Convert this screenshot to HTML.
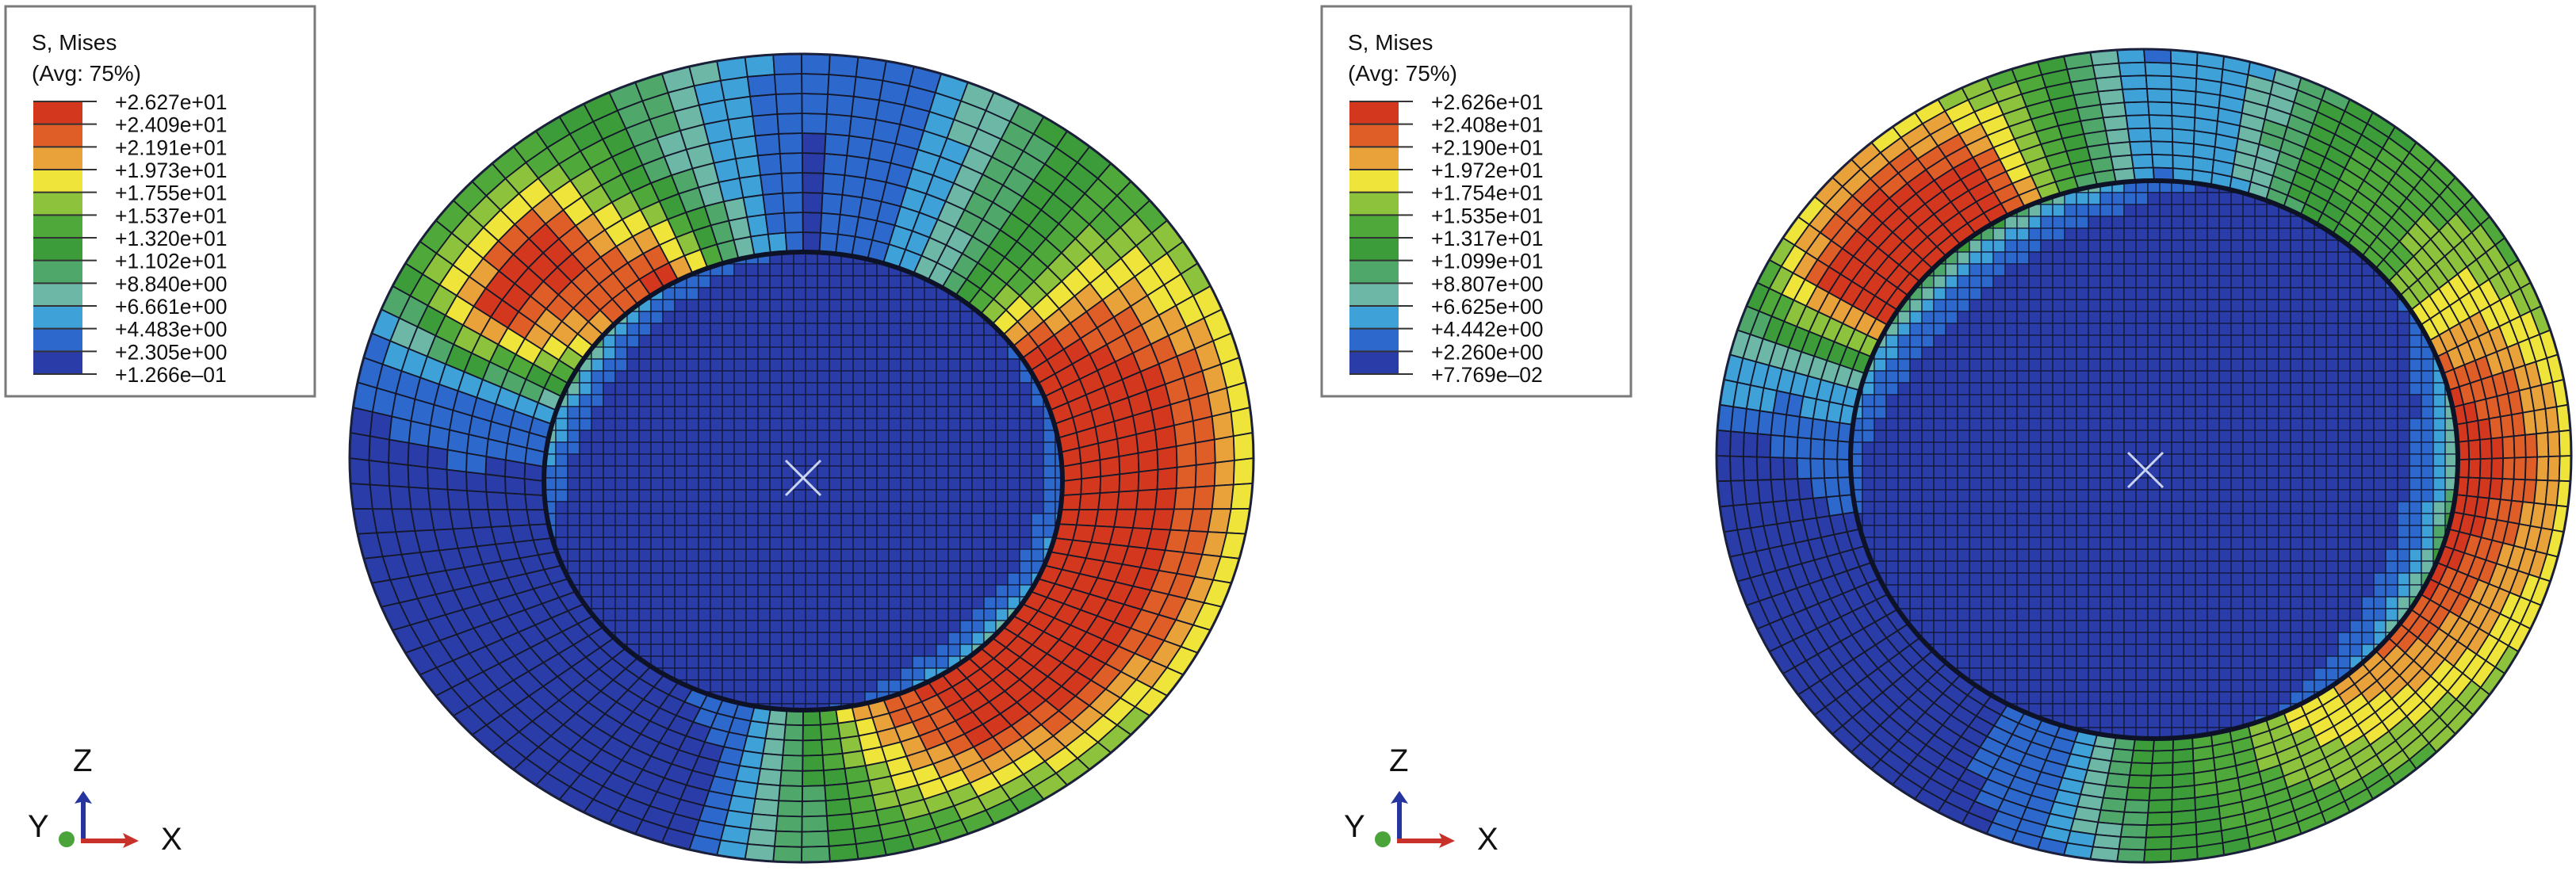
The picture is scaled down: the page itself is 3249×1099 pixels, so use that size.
<!DOCTYPE html>
<html><head><meta charset="utf-8"><style>
html,body{margin:0;padding:0;background:#fff;}
svg{display:block;font-family:"Liberation Sans",Arial,sans-serif;}
</style></head><body>
<svg id="fig" width="3249" height="1099" viewBox="0 0 3249 1099" xmlns="http://www.w3.org/2000/svg">
<g id="legendL"></g>
<g id="legendR"></g>
<g id="plateL"></g>
<g id="plateR"></g>
<g id="triadL"></g>
<g id="triadR"></g>
</svg>
<script>
// legend labels
const labelsL = ["+2.627e+01","+2.409e+01","+2.191e+01","+1.973e+01","+1.755e+01","+1.537e+01","+1.320e+01","+1.102e+01","+8.840e+00","+6.661e+00","+4.483e+00","+2.305e+00","+1.266e\u201301"];
const labelsR = ["+2.626e+01","+2.408e+01","+2.190e+01","+1.972e+01","+1.754e+01","+1.535e+01","+1.317e+01","+1.099e+01","+8.807e+00","+6.625e+00","+4.442e+00","+2.260e+00","+7.769e\u201302"];
const levelsL = [26.27,24.09,21.91,19.73,17.55,15.37,13.20,11.02,8.840,6.661,4.483,2.305,0.1266];
const levelsR = [26.26,24.08,21.90,19.72,17.54,15.35,13.17,10.99,8.807,6.625,4.442,2.260,0.07769];
const bandColors = ["#d3381f","#df5e27","#e9a23a","#eee43a","#8cc23c","#4fa83a","#3c9c3a","#4fa86a","#6db7a6","#3ea2d8","#2d69cc","#2a3ca8"];
// stress samples every 15 deg (screen angle, 0 = right, clockwise)
const angles = [0,15,30,45,60,75,90,105,120,135,150,165,180,195,210,225,240,255,270,285,300,315,330,345];
const leftInner = [26,26,26,26,25,22,12,3,2,2,2,2,2,4,16,22,26,10,2,3,8,16,26,26];
const leftMid   = [26,26,26,25,24,18,10,2,1,1,1,1,2,5,26,26,14,6,2,3,9,14,22,26];
const leftOuter = [19,19,18,16,14,13,10,2,1,1,1,1,1,3,12,13,12,8,3,4,10,14,16,19];
const leftDome  = [4,5,6,8,6,3,2,1,1,1,1,2,5,8,10,8,5,3,2,1,1,2,3,3];
const rightInner = [26,26,24,22,19,15,12,4,2,2,2,2,3,6,24,26,26,12,4,6,12,14,18,24];
const rightMid   = [24,22,21,19,17,14,12,4,2,2,2,2,2,6,26,26,24,14,5,7,13,15,18,22];
const rightOuter = [19,19,17,15,14,13,11,3,1,1,1,1,1,7,16,20,18,13,4,6,12,14,15,18];
const rightDome  = [10,12,10,6,3,2,1,1,1,1,1,2,3,6,10,13,12,8,3,2,1,2,3,6];

const NS="http://www.w3.org/2000/svg";
function mk(tag,attrs,parent){const e=document.createElementNS(NS,tag);for(const k in attrs)e.setAttribute(k,attrs[k]);parent.appendChild(e);return e;}

function colorFor(v,levels){
  for(let i=0;i<12;i++){ if(v>=levels[i+1]) return bandColors[i]; }
  return bandColors[11];
}
function angSample(arr,deg){
  deg=((deg%360)+360)%360;
  const i=Math.floor(deg/15), f=(deg-i*15)/15;
  return arr[i]*(1-f)+arr[(i+1)%24]*f;
}

function legend(g,x0,labels){
  const box=mk('rect',{x:x0+7,y:8,width:390,height:492,fill:'#fff',stroke:'#7a7a7a','stroke-width':3},g);
  
  
  const t1=mk('text',{x:x0+40,y:63,'font-size':28,fill:'#111'},g);t1.textContent='S, Mises';
  
  
  const t2=mk('text',{x:x0+40,y:102,'font-size':28,fill:'#111'},g);t2.textContent='(Avg: 75%)';
  
  
  const top=128,bh=(472-128)/12;
  for(let i=0;i<12;i++){
    const r=mk('rect',{x:x0+42,y:top+i*bh,width:62,height:bh,fill:bandColors[i]},g);
    
    
  }
  for(let i=0;i<13;i++){
    const y=top+i*bh;
    const l=mk('line',{x1:x0+42,x2:x0+122,y1:y,y2:y,stroke:'#333','stroke-width':2},g);
    
    
    const t=mk('text',{x:x0+145,y:y+10,'font-size':26.5,fill:'#111'},g);t.textContent=labels[i];
    
    
  }
}
legend(document.getElementById('legendL'),0,labelsL);
legend(document.getElementById('legendR'),1660,labelsR);

function plate(g,P,inner,mid,outer,dome,levels,cid){
  const NA=100,NR=10;
  const cp=mk('clipPath',{id:cid},g);
  mk('ellipse',{cx:P.dx,cy:P.dy,rx:P.drx,ry:P.dry},cp);
  function pt(a,r){const c=Math.cos(a),s=Math.sin(a);
    const ix=P.dx+P.drx*c, iy=P.dy+P.dry*s, ox=P.cx+P.rx*c, oy=P.cy+P.ry*s;
    return [ix+(ox-ix)*r, iy+(oy-iy)*r];}
  for(let i=0;i<NA;i++){
    const a0=i/NA*2*Math.PI,a1=(i+1)/NA*2*Math.PI,deg=(i+0.5)/NA*360;
    for(let j=0;j<NR;j++){
      const r0=j/NR,r1=(j+1)/NR,rm=(j+0.5)/NR;
      const vi=angSample(inner,deg),vm=angSample(mid,deg),vo=angSample(outer,deg);
      const v= rm<0.5 ? vi+(vm-vi)*(rm/0.5) : vm+(vo-vm)*((rm-0.5)/0.5);
      const p=[pt(a0,r0),pt(a1,r0),pt(a1,r1),pt(a0,r1)];
      const q=mk('polygon',{points:p.map(z=>z[0].toFixed(1)+','+z[1].toFixed(1)).join(' '),fill:colorFor(v,levels),stroke:'#14182a','stroke-width':1.8},g);
      
      
    }
  }
  const dg=mk('g',{'clip-path':'url(#'+cid+')'},g);
  const cs=15;
  for(let x=P.dx-P.drx;x<P.dx+P.drx;x+=cs){
    for(let y=P.dy-P.dry;y<P.dy+P.dry;y+=cs){
      const mx=(x+cs/2-P.dx)/P.drx,my=(y+cs/2-P.dy)/P.dry;
      const t=Math.sqrt(mx*mx+my*my); if(t>1.08) continue;
      const deg=Math.atan2(my,mx)*180/Math.PI;
      const v=1+(angSample(dome,deg)-1)*Math.pow(Math.min(t,1),12);
      const r=mk('rect',{x:x.toFixed(1),y:y.toFixed(1),width:cs,height:cs,fill:colorFor(v,levels),stroke:'#12183a','stroke-width':1.3},dg);
      
      
    }
  }
  const rim=mk('ellipse',{cx:P.dx,cy:P.dy,rx:P.drx,ry:P.dry,fill:'none',stroke:'#0d1226','stroke-width':6},g);
  
  
  const edge=mk('ellipse',{cx:P.cx,cy:P.cy,rx:P.rx,ry:P.ry,fill:'none',stroke:'#1a1f3a','stroke-width':3},g);
  
  
  const m=mk('path',{d:`M${P.xx-22},${P.xy-22}L${P.xx+22},${P.xy+22}M${P.xx+22},${P.xy-22}L${P.xx-22},${P.xy+22}`,stroke:'#c8d4f0','stroke-width':3},g);
  
  
}
plate(document.getElementById('plateL'),{cx:1011,cy:578,rx:570,ry:510,dx:1013,dy:607,drx:327,dry:289,xx:1013,xy:603},leftInner,leftMid,leftOuter,leftDome,levelsL,'clipL');
plate(document.getElementById('plateR'),{cx:2704,cy:575,rx:539,ry:513,dx:2717,dy:580,drx:383,dry:352,xx:2706,xy:593},rightInner,rightMid,rightOuter,rightDome,levelsR,'clipR');

function triad(g,x0){
  const z=mk('text',{x:x0+92,y:973,'font-size':40,fill:'#111'},g);z.textContent='Z';
  
  
  const y=mk('text',{x:x0+35,y:1056,'font-size':40,fill:'#111'},g);y.textContent='Y';
  
  
  const x=mk('text',{x:x0+203,y:1072,'font-size':40,fill:'#111'},g);x.textContent='X';
  
  
  const gd=mk('circle',{cx:x0+84,cy:1059,r:10,fill:'#4aa43a'},g);
  
  
  const b=mk('path',{d:`M${x0+102},1063 L${x0+102},1012 L${x0+94},1014 L${x0+105},998 L${x0+116},1014 L${x0+108},1012 L${x0+108},1063Z`,fill:'#2634a0'},g);
  
  
  const r=mk('path',{d:`M${x0+102},1058 L${x0+158},1058 L${x0+155},1051 L${x0+175},1061 L${x0+155},1070 L${x0+158},1064 L${x0+102},1064Z`,fill:'#c8302a'},g);
  
  
}
triad(document.getElementById('triadL'),0);
triad(document.getElementById('triadR'),1660);
</script>
</body></html>
